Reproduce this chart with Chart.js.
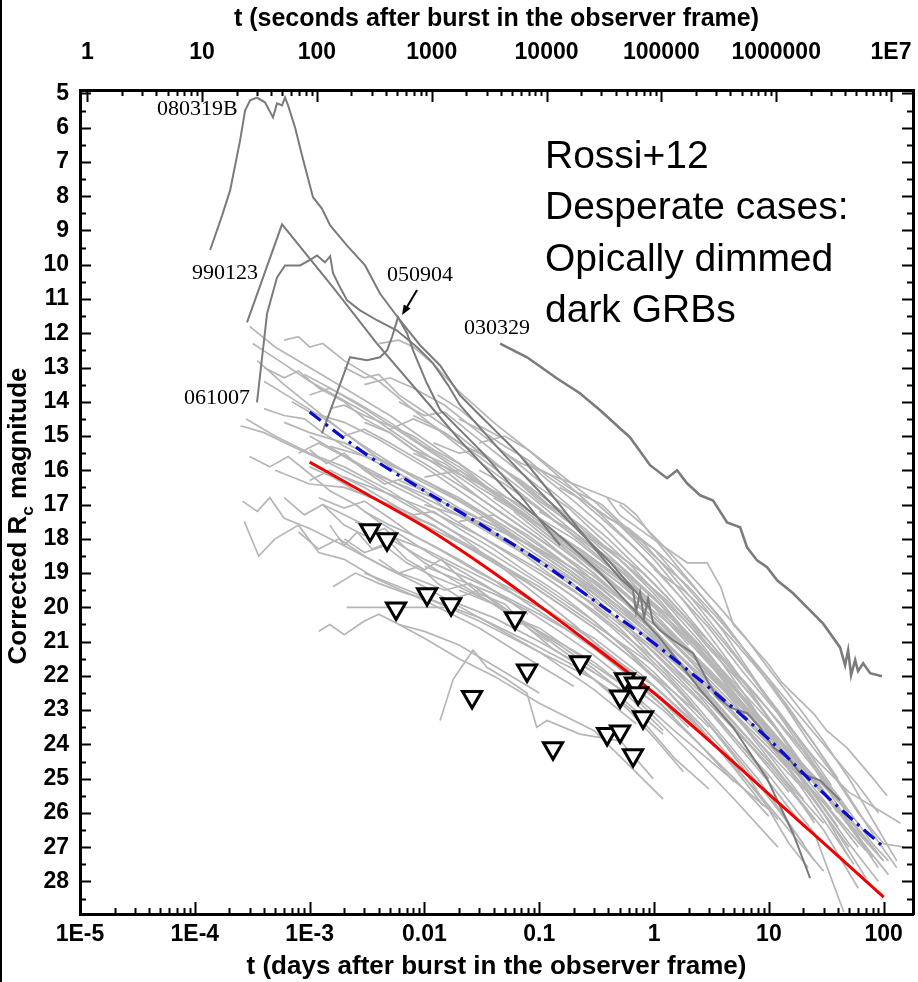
<!DOCTYPE html>
<html><head><meta charset="utf-8">
<script src="https://cdn.jsdelivr.net/npm/chart.js@4.4.1/dist/chart.umd.min.js"></script>
<style>html,body{margin:0;padding:0;background:#fff;}canvas{display:block;}</style>
</head><body>
<canvas id="c" width="918" height="982"></canvas>
<script>
// ---------------- axis ticks ----------------
const xTickValues = [1e-5, 1e-4, 1e-3, 0.01, 0.1, 1, 10, 100];
const xTickLabels = ['1E-5', '1E-4', '1E-3', '0.01', '0.1', '1', '10', '100'];
const secTickValues = [1, 10, 100, 1000, 10000, 100000, 1000000, 10000000];
const secTickLabels = ['1', '10', '100', '1000', '10000', '100000', '1000000', '1E7'];
const yTickValues = [5,6,7,8,9,10,11,12,13,14,15,16,17,18,19,20,21,22,23,24,25,26,27,28];

// ---------------- highlighted light curves [t (days), corrected Rc mag] ----------------
const grb080319B = [[1.36e-4,9.57],[1.73e-4,8.56],[2.03e-4,7.83],[2.48e-4,6.37],[2.74e-4,5.50],[3.03e-4,5.20],[3.48e-4,5.12],[4.08e-4,5.26],[4.80e-4,5.70],[5.20e-4,5.29],[5.75e-4,5.35],[6.11e-4,5.12],[6.49e-4,5.35],[7.46e-4,5.99],[8.59e-4,6.81],[1.07e-3,8.03],[1.28e-3,8.36],[1.51e-3,8.85],[2.12e-3,9.44],[3.04e-3,10.02],[4.10e-3,10.84],[6.12e-3,11.62],[9.16e-3,12.35],[0.0137,12.94],[0.0204,13.81],[0.0305,14.40],[0.0456,14.98],[0.0681,15.57],[0.102,16.29],[0.152,17.02],[0.226,17.75],[0.339,18.48],[0.506,19.15],[0.656,19.50],[0.697,20.14],[0.755,19.56],[0.818,20.32],[0.887,19.74],[0.980,20.44],[1.127,20.67],[1.466,20.96],[2.188,21.34],[2.897,22.13],[3.540,22.62],[4.592,22.92],[6.457,23.09],[8.375,23.50],[10.89,24.08],[15.31,24.46],[18.71,24.84],[27.9,25.05],[41.7,25.63]];
const grb990123 = [[2.85e-4,11.68],[5.75e-4,8.82],[1.60e-3,10.66],[3.86e-3,12.30],[8.63e-3,13.67],[0.0204,15.13],[0.0592,16.79],[0.161,18.0],[0.339,19.0],[1.127,20.9],[2.518,22.4],[4.875,23.5],[9.64,25.0],[16.26,26.6],[22.86,27.9]];
const grb061007 = [[3.48e-4,14.02],[4.26e-4,11.42],[5.20e-4,10.37],[6.11e-4,10.02],[8.24e-4,10.02],[1.01e-3,9.86],[1.16e-3,9.73],[1.36e-3,9.93],[1.51e-3,9.75],[1.60e-3,10.25],[1.84e-3,10.66],[2.12e-3,11.04],[2.75e-3,11.33],[3.86e-3,11.62],[5.77e-3,11.92],[8.63e-3,12.41],[0.0119,12.88],[0.0161,13.52],[0.0204,14.10],[0.0456,15.42],[0.102,16.64],[0.226,17.81],[0.414,18.68],[0.923,20.03]];
const grb050904 = [[1.28e-3,14.92],[2.25e-3,12.70],[3.16e-3,12.79],[4.10e-3,12.70],[4.72e-3,12.50],[5.22e-3,12.11],[5.89e-3,11.53],[7.05e-3,12.00],[7.96e-3,12.50],[9.16e-3,12.99],[0.0105,13.46],[0.0137,14.24],[0.0305,15.41],[0.0681,16.73],[0.152,18.19]];
const grb030329 = [[0.0456,12.30],[0.0783,12.70],[0.143,13.32],[0.226,13.75],[0.339,14.25],[0.618,15.04],[0.923,15.85],[1.297,16.23],[1.585,16.00],[1.936,16.38],[2.518,16.73],[3.266,16.88],[4.325,17.52],[5.61,17.66],[6.457,18.25],[7.89,18.63],[9.64,18.83],[11.80,19.21],[16.26,19.59],[21.5,20.00],[29.6,20.47],[41.7,21.17],[46.1,21.69],[49.0,21.25],[52.0,21.98],[56.4,21.54],[59.8,21.86],[66.2,21.63],[76.2,21.92],[96.8,22.01]];

// ---------------- sample light curves (grey) ----------------
const A1 = [[3.0e-4,11.8],[5e-4,12.4],[1e-3,13.0],[2e-3,13.6],[5e-3,14.4],[0.01,15.1],[0.03,16.2],[0.1,17.5],[0.3,18.8],[1,20.3],[3,21.9],[8,23.4]];
const A2 = [[3.2e-4,12.3],[6e-4,12.9],[1e-3,13.4],[3e-3,14.3],[0.01,15.5],[0.03,16.6],[0.1,17.9],[0.4,19.6],[1.5,21.4],[4,23.0]];
const A3 = [[2.5e-4,14.7],[4e-4,14.9],[7e-4,15.3],[1.5e-3,15.8],[3e-3,16.3],[0.01,17.3],[0.03,18.2],[0.1,19.3],[0.3,20.4],[1,21.9],[3,23.5]];
const A4 = [[2.8e-4,14.5],[5e-4,15.0],[1e-3,15.5],[2e-3,15.9],[5e-3,16.6],[0.02,17.9],[0.05,18.9],[0.2,20.5],[0.6,21.9],[1.5,23.2]];
const A5 = [[2.6e-4,16.9],[3.5e-4,17.2],[4.5e-4,16.8],[6e-4,17.4],[1e-3,17.7],[2e-3,18.2],[5e-3,18.9],[0.01,19.4],[0.03,20.3],[0.1,21.3],[0.3,22.4],[0.7,23.4]];
const A6 = [[2.7e-4,17.5],[3.6e-4,18.5],[5e-4,18.0],[8e-4,17.6],[1.2e-3,18.4],[2e-3,18.6],[4e-3,19.2],[0.01,19.8],[0.03,20.6],[0.08,21.5],[0.2,22.3]];
const A7 = [[3.5e-4,12.8],[6e-4,13.5],[1e-3,14.1],[2e-3,14.9],[5e-3,15.9],[0.01,16.6],[0.03,17.6],[0.1,18.7],[0.3,19.8],[1,21.2],[3,22.7],[10,24.6],[25,26.2]];
const A8 = [[4e-4,13.4],[7e-4,13.9],[1.5e-3,14.6],[3e-3,15.3],[8e-3,16.2],[0.02,16.9],[0.06,17.9],[0.2,19.1],[0.6,20.4],[2,22.0],[6,23.8],[15,25.4]];
const B1 = [[6e-4,12.2],[8e-4,12.1],[1e-3,12.4],[1.3e-3,12.3],[2e-3,12.8],[4e-3,13.4],[0.01,14.5],[0.02,15.3],[0.05,16.3],[0.1,17.1],[0.3,18.4],[1,20.0],[2,21.1]];
const B2 = [[7e-4,14.0],[1e-3,14.3],[2e-3,14.6],[4e-3,15.1],[0.01,15.9],[0.03,17.0],[0.1,18.2],[0.3,19.3],[1,20.7],[3,22.2],[10,24.0],[30,25.7],[70,27.1]];
const B3 = [[8e-4,15.5],[1.2e-3,15.2],[2e-3,15.6],[5e-3,16.4],[0.01,16.9],[0.03,17.9],[0.1,19.0],[0.3,20.1],[1,21.5],[3,23.0],[10,24.9],[25,26.6],[45,28.9]];
const B4 = [[1e-3,16.3],[1.5e-3,16.0],[3e-3,16.5],[6e-3,17.1],[0.015,17.8],[0.04,18.6],[0.1,19.5],[0.3,20.6],[1,22.0],[2.5,23.1]];
const B5 = [[1.2e-3,20.7],[1.5e-3,20.5],[2e-3,20.8],[3e-3,20.4],[4e-3,20.2],[6e-3,20.5],[0.01,20.7],[0.02,21.1],[0.04,21.7],[0.1,22.5]];
const B6 = [[2.1e-3,20.0],[4e-3,20.0],[8e-3,20.0],[0.015,20.0],[0.02,19.9],[0.04,20.3],[0.1,21.0],[0.3,21.9],[0.8,22.8]];
const B7 = [[1.6e-3,19.4],[2.5e-3,19.0],[4e-3,19.3],[7e-3,19.6],[0.012,19.8],[0.03,20.3],[0.08,21.0],[0.2,21.7],[0.5,22.6],[1.2,23.7]];
const B8 = [[9e-4,13.2],[1.5e-3,13.6],[3e-3,14.2],[7e-3,15.0],[0.02,16.0],[0.05,16.9],[0.15,18.0],[0.5,19.3],[1.5,20.6],[4,22.0],[10,23.5],[30,25.4],[80,27.3]];
const B9 = [[1.3e-3,17.0],[2e-3,17.3],[4e-3,17.8],[0.01,18.3],[0.03,19.1],[0.1,20.0],[0.3,20.9],[0.8,22.0],[2,23.2],[5,24.6],[12,26.2]];
const B10 = [[2e-3,15.0],[3e-3,14.8],[5e-3,15.2],[0.01,15.8],[0.03,16.8],[0.1,18.0],[0.3,19.1],[1,20.5],[3,22.0],[8,23.4],[20,24.8],[50,26.2],[100,27.4]];
const D1 = [[4e-3,12.3],[6e-3,12.2],[8e-3,12.4],[0.012,12.9],[0.02,13.7],[0.04,14.6],[0.08,15.4],[0.15,16.1],[0.3,16.9],[0.6,17.8],[1,18.5],[2,19.4],[4,20.5],[8,21.7],[15,22.8],[30,24.0],[60,25.2],[90,26.0]];
const D2 = [[3e-3,13.5],[5e-3,13.3],[8e-3,13.6],[0.015,14.1],[0.03,14.9],[0.06,15.7],[0.15,16.8],[0.4,18.0],[1,19.3],[3,21.0],[8,22.6],[20,24.3],[50,26.0]];
const D3 = [[5e-3,14.8],[8e-3,14.5],[0.015,14.9],[0.03,15.6],[0.08,16.7],[0.2,17.8],[0.5,18.9],[1.2,20.2],[3,21.5],[7,22.9],[15,24.2],[40,25.9],[90,27.6]];
const D4 = [[0.01,16.2],[0.02,16.0],[0.04,16.6],[0.1,17.6],[0.3,18.9],[1,20.3],[3,21.8],[10,23.6],[25,25.1],[60,26.7],[110,27.8]];
const D5 = [[0.02,17.5],[0.04,17.3],[0.08,17.9],[0.2,18.9],[0.5,20.0],[1.5,21.5],[4,23.0],[10,24.5],[30,26.5],[60,28.2]];
const D6 = [[0.03,15.2],[0.05,15.0],[0.08,15.4],[0.15,16.2],[0.3,17.1],[0.7,18.3],[1.5,19.5],[3,20.6],[6,21.9],[12,23.1],[25,24.4],[50,25.4],[100,26.0],[140,26.3]];
const D7 = [[0.05,16.0],[0.1,16.9],[0.2,17.6],[0.5,18.6],[1,19.5],[2,20.5],[5,21.9],[10,23.0],[20,24.2],[40,25.5],[80,26.9],[110,27.4]];
const D8 = [[0.06,17.2],[0.1,17.8],[0.3,19.0],[0.8,20.3],[2,21.7],[5,23.1],[10,24.1],[20,25.2],[40,26.6],[70,27.9]];
const D9 = [[0.045,15.4],[0.07,15.8],[0.1,16.0],[0.2,16.4],[0.4,16.8],[0.55,17.0],[0.7,17.3],[0.9,17.8],[1.2,18.3],[2,19.2],[3.5,20.2],[6,21.2],[10,22.1],[15,23.0],[25,24.0],[40,25.0]];
const D10 = [[0.15,16.5],[0.25,16.9],[0.5,17.6],[1,18.6],[2,19.8],[4,21.0],[7,22.0],[12,23.0],[20,24.0],[35,25.2]];
const D11 = [[0.39,16.8],[0.5,17.3],[0.98,18.0],[1.95,18.7],[2.9,18.7],[3.8,19.4],[4.9,20.5],[9.6,21.6],[13,22.2],[24.5,23.1],[32,23.6],[48,24.1],[81,25.0],[107,25.5]];
const L1 = [[0.0137,23.3],[0.0178,22.1],[0.0265,21.25],[0.035,21.75],[0.052,22.1],[0.078,22.5],[0.095,23.5],[0.117,23.3],[0.226,23.7],[0.51,23.9],[0.98,25.0]];
const L2 = [[6e-3,20.5],[0.01,20.9],[0.02,21.5],[0.04,22.0],[0.1,22.8],[0.3,23.6],[0.6,24.6],[1.2,25.6]];
const L3 = [[3e-3,19.0],[6e-3,19.4],[0.01,19.7],[0.03,20.4],[0.1,21.3],[0.3,22.1],[0.7,23.1],[1.5,24.4],[3,25.3]];
const L4 = [[0.02,19.5],[0.04,19.9],[0.1,20.7],[0.3,21.6],[0.6,22.4],[1.5,23.6],[4,24.8],[10,25.9]];
const L5 = [[0.05,20.2],[0.1,20.6],[0.2,21.3],[0.5,22.2],[1,23.2],[2,24.2],[5,25.6],[12,27.0]];
const L6 = [[2.5e-3,17.5],[5e-3,18.0],[0.01,18.6],[0.03,19.3],[0.1,20.2],[0.3,21.1],[1,22.3],[3,23.8],[8,25.4],[20,27.0],[30,27.7]];
const M1 = [[1e-3,15.0],[3e-3,15.9],[0.01,16.8],[0.03,17.6],[0.1,18.6],[0.3,19.6],[1,21.0],[3,22.6],[10,24.5],[30,26.3]];
const M2 = [[1.5e-3,15.3],[4e-3,15.7],[0.01,16.3],[0.03,17.2],[0.1,18.4],[0.3,19.5],[1,20.9],[3,22.4],[8,23.9],[20,25.3]];
const M3 = [[2e-3,16.2],[5e-3,16.7],[0.01,17.1],[0.03,17.9],[0.1,18.9],[0.3,19.9],[1,21.3],[3,22.8],[10,24.6]];
const M4 = [[5e-4,16.0],[1e-3,16.4],[2e-3,16.5],[5e-3,17.0],[0.01,17.6],[0.03,18.4],[0.1,19.4],[0.3,20.5],[1,21.7]];
const M5 = [[8e-3,15.5],[0.015,15.9],[0.03,16.4],[0.07,17.2],[0.15,18.0],[0.4,19.2],[1,20.4],[3,21.9],[8,23.3],[20,24.6],[50,26.0]];
const M6 = [[0.01,17.0],[0.03,17.5],[0.1,18.3],[0.3,19.2],[1,20.5],[3,22.1],[10,23.9],[30,25.7],[60,27.0]];
const M7 = [[3e-3,16.0],[0.01,16.7],[0.04,17.6],[0.15,18.7],[0.5,20.0],[1.5,21.3],[4,22.7],[10,24.3],[20,25.6]];
const M8 = [[6e-4,14.6],[1e-3,14.9],[2e-3,15.2],[5e-3,15.8],[0.02,16.8],[0.06,17.8],[0.2,19.0],[0.6,20.2],[1.5,21.3]];
const M9 = [[0.1,17.2],[0.2,17.8],[0.5,18.8],[1,19.7],[2,20.9],[5,22.4],[10,23.5],[25,25.0],[50,26.3],[100,27.4]];
const M10 = [[0.2,18.2],[0.5,19.2],[1,20.2],[2,21.3],[4,22.4],[8,23.6],[15,24.7],[30,26.0],[50,27.3]];
const E1 = [[1e-3,13.8],[1.5e-3,13.6],[2.5e-3,14.0],[5e-3,14.6],[0.01,15.3],[0.02,15.9],[0.035,16.5],[0.06,16.9],[0.1,17.4],[0.2,18.0],[0.4,18.8],[0.8,19.6],[1.5,20.4],[3,21.4],[6,22.5],[12,23.6]];
const E2 = [[2e-3,13.0],[3e-3,13.3],[4e-3,13.2],[6e-3,13.8],[0.01,14.3],[0.02,15.0],[0.04,15.8],[0.07,16.3],[0.12,16.9],[0.25,17.7],[0.5,18.6],[1,19.6],[2,20.8],[4,22.1],[8,23.4],[15,24.5]];
const E3 = [[6e-3,14.0],[0.01,14.4],[0.015,14.3],[0.025,14.9],[0.05,15.7],[0.1,16.5],[0.18,17.1],[0.3,17.8],[0.6,18.7],[1.2,19.8],[2.5,21.0],[5,22.3],[10,23.5],[20,24.9],[35,25.9]];
const E4 = [[0.012,15.2],[0.02,15.5],[0.03,15.4],[0.05,16.0],[0.09,16.7],[0.15,17.3],[0.3,18.1],[0.6,19.0],[1.2,20.0],[2.5,21.2],[5,22.5],[9,23.5],[18,24.8]];
const E5 = [[3e-3,14.6],[5e-3,14.9],[8e-3,15.4],[0.015,15.8],[0.03,16.5],[0.06,17.1],[0.12,17.8],[0.25,18.5],[0.5,19.3],[1,20.2],[2,21.2],[4,22.3],[7,23.1]];
const E6 = [[0.02,14.5],[0.03,14.8],[0.05,15.3],[0.08,15.7],[0.12,16.2],[0.2,16.7],[0.35,17.4],[0.6,18.1],[1,18.8],[1.8,19.8],[3,20.8],[5,21.8],[9,23.0],[16,24.2],[28,25.4]];
const E7 = [[0.08,15.8],[0.12,16.1],[0.2,16.6],[0.35,17.0],[0.5,17.5],[0.8,18.1],[1.3,18.9],[2.2,19.8],[4,20.9],[7,22.0],[12,23.1],[22,24.4],[40,25.8],[70,27.0]];
const E8 = [[0.25,16.9],[0.4,17.4],[0.6,17.7],[1,18.3],[1.6,19.1],[2.6,19.9],[4,20.7],[6,21.6],[10,22.7],[16,23.6],[30,25.0],[55,26.3],[90,27.2]];
const E9 = [[0.6,17.8],[1,18.3],[1.5,18.8],[2.5,19.6],[4,20.4],[6,21.2],[9,22.0],[14,22.9],[22,23.9],[35,24.8],[60,26.0],[100,26.9],[150,27.0]];
const E10 = [[0.013,13.8],[0.02,14.2],[0.03,14.7],[0.05,15.1],[0.08,15.8],[0.12,16.3],[0.2,16.9],[0.35,17.6],[0.6,18.4],[1,19.1],[1.8,20.1],[3.2,21.1],[6,22.3],[11,23.4],[20,24.6],[40,26.0]];
const E11 = [[1.5e-3,14.2],[2e-3,14.1],[3e-3,14.4],[5e-3,14.7],[8e-3,15.0],[0.012,15.4],[0.02,15.8],[0.03,16.3],[0.05,16.9],[0.1,17.7],[0.2,18.5],[0.4,19.4],[0.8,20.4],[1.6,21.5],[3,22.5]];
const E12 = [[4e-4,14.2],[6e-4,14.4],[9e-4,14.5],[1.3e-3,14.9],[2e-3,15.3],[3.5e-3,15.7],[6e-3,16.1],[0.01,16.5],[0.02,17.1],[0.04,17.6],[0.08,18.3],[0.15,18.9],[0.3,19.6],[0.6,20.4],[1.2,21.4],[2.5,22.6],[5,23.8],[10,25.0]];
const E13 = [[0.3,18.0],[0.5,18.5],[0.8,19.0],[1.3,19.7],[2,20.4],[3.5,21.4],[6,22.5],[10,23.6],[18,24.9],[30,26.0],[50,27.0]];
const E14 = [[0.04,16.8],[0.07,17.3],[0.12,17.9],[0.2,18.4],[0.35,19.0],[0.6,19.7],[1,20.4],[2,21.5],[4,22.7],[8,24.0],[15,25.2],[25,26.3]];
const E15 = [[0.1,19.0],[0.2,19.7],[0.4,20.5],[0.8,21.4],[1.5,22.3],[3,23.4],[6,24.6],[12,25.9],[20,26.9]];
const E16 = [[5e-3,17.0],[8e-3,17.3],[0.012,17.2],[0.02,17.7],[0.04,18.3],[0.08,19.0],[0.15,19.6],[0.3,20.4],[0.6,21.3],[1.2,22.3],[2.5,23.5],[5,24.7],[9,25.8]];
const F1 = [[1.2e-3,16.8],[2e-3,17.1],[3e-3,16.9],[5e-3,17.4],[8e-3,17.9],[0.015,18.4],[0.03,19.0],[0.06,19.5],[0.12,20.1],[0.25,20.8],[0.5,21.6],[1,22.5],[2,23.5]];
const F2 = [[2e-3,18.0],[3e-3,18.4],[4.5e-3,18.2],[7e-3,18.7],[0.012,19.1],[0.02,19.4],[0.035,19.8],[0.07,20.4],[0.15,21.1],[0.3,21.8],[0.6,22.6],[1.2,23.6]];
const F3 = [[8e-4,17.8],[1.2e-3,18.3],[1.8e-3,18.0],[3e-3,18.5],[5e-3,18.9],[9e-3,19.2],[0.015,19.5],[0.025,19.3],[0.04,19.8],[0.08,20.5],[0.15,21.2],[0.3,21.9]];
const F4 = [[3e-3,17.2],[5e-3,17.6],[8e-3,17.9],[0.012,18.2],[0.02,18.6],[0.04,19.2],[0.08,19.9],[0.15,20.5],[0.3,21.2],[0.6,22.0],[1.2,22.9],[2.5,24.0],[5,25.1]];
const F5 = [[1e-3,15.9],[1.6e-3,16.2],[2.5e-3,16.6],[4e-3,16.9],[7e-3,17.3],[0.012,17.6],[0.02,18.1],[0.04,18.7],[0.08,19.3],[0.15,19.9],[0.3,20.6],[0.6,21.4],[1.2,22.3],[2.5,23.4],[5,24.5]];
const F6 = [[6e-3,16.3],[0.01,16.6],[0.02,17.2],[0.04,17.8],[0.08,18.4],[0.15,19.0],[0.3,19.8],[0.6,20.6],[1.2,21.6],[2.5,22.7],[5,23.9],[10,25.1],[20,26.4]];
const F7 = [[0.03,16.0],[0.05,16.4],[0.08,16.9],[0.15,17.6],[0.3,18.3],[0.6,19.1],[1.2,20.0],[2.5,21.1],[5,22.3],[10,23.6],[20,25.0],[40,26.4]];
const F8 = [[0.1,17.6],[0.2,18.2],[0.4,18.9],[0.8,19.6],[1.5,20.4],[3,21.5],[6,22.7],[12,24.0],[25,25.5],[50,26.9],[90,28.0]];
const F9 = [[0.5,17.0],[0.8,17.6],[1.2,18.2],[2,19.0],[3.5,19.9],[6,20.8],[10,21.8],[18,22.9],[30,23.9],[50,25.0],[80,26.2],[130,27.4]];
const F10 = [[1,18.9],[1.8,19.5],[3,20.2],[5,21.0],[8,21.8],[14,22.8],[25,24.0],[45,25.3],[80,26.6],[130,27.6]];
const F11 = [[4e-4,13.0],[6e-4,13.3],[8e-4,13.1],[1.2e-3,13.6],[2e-3,14.0],[3e-3,14.5],[5e-3,14.9],[8e-3,15.4],[0.015,16.0],[0.03,16.8],[0.06,17.5],[0.12,18.2],[0.25,19.0],[0.5,19.9]];
const F12 = [[3e-4,15.6],[4.5e-4,15.9],[6.5e-4,15.6],[1e-3,16.1],[1.5e-3,16.6],[2.5e-3,17.0],[4e-3,17.5],[7e-3,18.0],[0.012,18.5],[0.02,18.9],[0.04,19.5],[0.08,20.2]];
const F13 = [[0.01,18.8],[0.02,19.2],[0.04,19.6],[0.08,20.1],[0.15,20.7],[0.3,21.4],[0.6,22.2],[1.2,23.0],[2.5,24.0],[5,25.0],[10,26.1]];
const F14 = [[0.2,19.2],[0.35,19.9],[0.6,20.7],[1,21.5],[2,22.6],[4,23.8],[8,25.0],[15,26.3],[25,27.4]];
const F15 = [[0.008,14.4],[0.012,14.7],[0.02,15.2],[0.03,15.5],[0.05,16.0],[0.08,16.5],[0.12,17.0],[0.2,17.5],[0.3,18.0],[0.5,18.6],[0.8,19.2],[1.3,19.8],[2,20.5],[3,21.2],[5,22.0],[8,22.8],[13,23.8],[20,24.7]];
const F16 = [[0.15,17.9],[0.25,18.4],[0.4,18.9],[0.7,19.5],[1.2,20.2],[2,21.0],[3.5,21.9],[6,22.9],[10,23.9],[17,25.0],[30,26.2],[55,27.5]];
const G1 = [[1.5e-3,17.6],[2e-3,18.2],[2.6e-3,17.8],[3.5e-3,18.3],[5e-3,18.1],[7e-3,18.6],[0.01,18.9],[0.014,18.6],[0.02,19.1],[0.03,19.6],[0.05,19.9],[0.08,20.6],[0.12,21.0]];
const G2 = [[6e-4,16.8],[9e-4,17.3],[1.3e-3,17.0],[2e-3,17.6],[3e-3,17.9],[4.5e-3,17.7],[7e-3,18.3],[0.01,18.7],[0.02,19.3],[0.04,19.9],[0.07,20.5]];
const G3 = [[4e-3,18.6],[6e-3,19.0],[9e-3,18.8],[0.013,19.3],[0.02,19.7],[0.03,19.5],[0.05,20.1],[0.08,20.6],[0.13,21.2],[0.2,21.6],[0.35,22.3],[0.6,23.0],[1,23.8],[1.8,24.8]];
const G4 = [[1e-3,15.4],[1.4e-3,15.8],[2e-3,15.5],[3e-3,16.0],[4.5e-3,16.4],[7e-3,16.2],[0.01,16.6],[0.015,17.1],[0.025,17.5],[0.04,17.9],[0.07,18.4],[0.12,19.0],[0.2,19.5],[0.4,20.3]];
const G5 = [[0.3,20.0],[0.5,20.6],[0.8,21.3],[1.3,22.0],[2,22.7],[3.5,23.7],[6,24.7],[10,25.9],[15,26.9],[22,27.6]];
const greyCurves = [A1,A2,A3,A4,A5,A6,A7,A8,B1,B2,B3,B4,B5,B6,B7,B8,B9,B10,D1,D2,D3,D4,D5,D6,D7,D8,D9,D10,D11,L1,L2,L3,L4,L5,L6,M1,M2,M3,M4,M5,M6,M7,M8,M9,M10,E1,E2,E3,E4,E5,E6,E7,E8,E9,E10,E11,E12,E13,E14,E15,E16,F1,F2,F3,F4,F5,F6,F7,F8,F9,F10,F11,F12,F13,F14,F15,F16,G1,G2,G3,G4,G5];

// ---------------- model lines ----------------
const redLine = [[1e-3,15.76],[3.16e-3,16.7],[0.01,17.65],[0.0316,18.75],[0.1,19.95],[0.316,21.2],[1,22.5],[3.16,23.95],[10,25.45],[31.6,26.95],[100,28.46]];
const blueLine = [[1e-3,14.3],[3.16e-3,15.55],[0.01,16.6],[0.0316,17.6],[0.1,18.65],[0.316,19.85],[1,21.05],[3.16,22.4],[10,23.85],[31.6,25.5],[100,27.0]];

// ---------------- upper limits (dark GRBs) ----------------
const limitT   = [0.00336,0.00472,0.00566,0.01054,0.01706,0.0260,0.0615,0.0783,0.1318,0.2265,0.558,0.682,0.506,0.726,0.802,0.390,0.506,0.656];
const limitMag = [17.75,18.01,20.03,19.62,19.91,22.62,20.32,21.84,24.11,21.60,22.10,22.22,22.60,22.51,23.21,23.70,23.62,24.32];

// ---------------- annotations ----------------
const grbNames = ['080319B','990123','061007','050904','030329'];
const grbNameT = [1.05e-4, 1.83e-4, 1.56e-4, 9.16e-3, 0.0429];
const grbNameMag = [5.46, 10.24, 13.89, 10.30, 11.85];
const noteLines = ['Rossi+12', 'Desperate cases:', 'Opically dimmed', 'dark GRBs'];

// ---------------- build ----------------
const pts = a => a.map(p => ({x: p[0], y: p[1]}));
const SANS = "'Liberation Sans', Arial, Helvetica, sans-serif";
Chart.defaults.font.family = SANS;
Chart.defaults.color = '#000';

const datasets = [];
datasets.push({label:'dark GRB limits', data: limitT.map((t,i)=>({x:t, y:limitMag[i]})), showLine:false,
  pointStyle:'triangle', rotation:180, pointRadius:11, pointBorderWidth:3, pointBackgroundColor:'#fff', pointBorderColor:'#000'});
datasets.push({label:'blue', data: pts(blueLine), showLine:true, borderColor:'#0a0ad0', borderWidth:3.2, borderDash:[14,6,3,6], pointRadius:0, cubicInterpolationMode:'monotone'});
datasets.push({label:'red', data: pts(redLine), showLine:true, borderColor:'#f00000', borderWidth:3, pointRadius:0, cubicInterpolationMode:'monotone'});
[[grb080319B,2],[grb990123,2],[grb061007,2],[grb050904,2],[grb030329,2.6]].forEach(([c,w],i)=>{
  datasets.push({label:'hl'+i, data: pts(c), showLine:true, borderColor:'#7b7b7b', borderWidth:w, pointRadius:0, tension:0});
});
greyCurves.forEach((c,i)=>{
  datasets.push({label:'g'+i, data: pts(c), showLine:true, borderColor:'#b6b6b6', borderWidth:1.7, pointRadius:0, tension:0});
});

const tickFont = {family: SANS, size: 23, weight: 'bold'};

const decor = {
  id: 'decor',
  afterDraw(chart) {
    const {ctx, chartArea: a, scales: {x, x2, y}} = chart;
    ctx.save();
    ctx.strokeStyle = '#000'; ctx.lineWidth = 2;
    ctx.beginPath();
    for (let e = -5; e <= 2; e++) {
      for (let k = 1; k <= 9; k++) {
        const v = k * Math.pow(10, e);
        if (v > x.max) break;
        const px = Math.round(x.getPixelForValue(v)) + 0.5;
        const len = k === 1 ? 12 : 6;
        ctx.moveTo(px, a.bottom); ctx.lineTo(px, a.bottom - len);
      }
    }
    for (let e = 0; e <= 7; e++) {
      for (let k = 1; k <= 9; k++) {
        const v = k * Math.pow(10, e);
        if (v > x2.max) break;
        const px = Math.round(x2.getPixelForValue(v)) + 0.5;
        const len = k === 1 ? 12 : 6;
        ctx.moveTo(px, a.top); ctx.lineTo(px, a.top + len);
      }
    }
    for (let m = 5; m <= 28.5; m += 0.5) {
      const py = Math.round(y.getPixelForValue(m)) + 0.5;
      const len = Number.isInteger(m) ? 11 : 6;
      ctx.moveTo(a.left, py); ctx.lineTo(a.left + len, py);
      ctx.moveTo(a.right, py); ctx.lineTo(a.right - len, py);
    }
    ctx.stroke();

    ctx.fillStyle = '#000';
    ctx.font = "22px 'Liberation Serif', 'Times New Roman', serif";
    ctx.textAlign = 'center'; ctx.textBaseline = 'middle';
    grbNames.forEach((s, i) => ctx.fillText(s, x.getPixelForValue(grbNameT[i]), y.getPixelForValue(grbNameMag[i])));

    const ax0 = x.getPixelForValue(8.63e-3), ay0 = y.getPixelForValue(10.74);
    const ax1 = x.getPixelForValue(6.38e-3), ay1 = y.getPixelForValue(11.47);
    const ang = Math.atan2(ay1 - ay0, ax1 - ax0);
    ctx.lineWidth = 2;
    ctx.beginPath(); ctx.moveTo(ax0, ay0); ctx.lineTo(ax1 - 6*Math.cos(ang), ay1 - 6*Math.sin(ang)); ctx.stroke();
    ctx.beginPath();
    ctx.moveTo(ax1, ay1);
    ctx.lineTo(ax1 - 10*Math.cos(ang) + 4*Math.sin(ang), ay1 - 10*Math.sin(ang) - 4*Math.cos(ang));
    ctx.lineTo(ax1 - 10*Math.cos(ang) - 4*Math.sin(ang), ay1 - 10*Math.sin(ang) + 4*Math.cos(ang));
    ctx.closePath(); ctx.fill();

    ctx.font = "39px " + SANS;
    ctx.textAlign = 'left'; ctx.textBaseline = 'alphabetic';
    noteLines.forEach((s, i) => ctx.fillText(s, 545, 168 + i * 51.3));

    ctx.save();
    ctx.translate(26, 516);
    ctx.rotate(-Math.PI / 2);
    const big = "bold 26px " + SANS, small = "bold 17px " + SANS;
    ctx.font = big; const w1 = ctx.measureText('Corrected R').width; const w3 = ctx.measureText(' magnitude').width;
    ctx.font = small; const w2 = ctx.measureText('c').width;
    let sx = -(w1 + w2 + w3) / 2;
    ctx.font = big; ctx.fillText('Corrected R', sx, 0); sx += w1;
    ctx.font = small; ctx.fillText('c', sx, 7); sx += w2;
    ctx.font = big; ctx.fillText(' magnitude', sx, 0);
    ctx.restore();

    ctx.fillRect(0, 0, 2, 982);
    ctx.restore();
  }
};

const noPad = s => { s.paddingLeft = 0; s.paddingRight = 0; s.paddingTop = 0; s.paddingBottom = 0; };

new Chart(document.getElementById('c'), {
  type: 'scatter',
  data: {datasets},
  options: {
    responsive: false, animation: false, devicePixelRatio: 1,
    layout: {autoPadding: false, padding: {left: 0, right: 5, top: 0, bottom: 0}},
    plugins: {legend: {display: false}, tooltip: {enabled: false}},
    scales: {
      x: {
        type: 'logarithmic', position: 'bottom', min: 1e-5, max: 180,
        grid: {display: false, drawTicks: false},
        border: {display: true, color: '#000', width: 3},
        ticks: {autoSkip: false, maxRotation: 0, font: tickFont, color: '#000', padding: 7,
          callback: (v, i) => xTickLabels[i]},
        afterBuildTicks: s => { s.ticks = xTickValues.map(v => ({value: v})); },
        afterFit: s => { s.height = 68; noPad(s); },
        title: {display: true, text: 't (days after burst in the observer frame)', color: '#000',
          font: {family: SANS, size: 26, weight: 'bold'}, padding: {top: 0, bottom: 0}}
      },
      x2: {
        type: 'logarithmic', position: 'top', axis: 'x', min: 1e-5 * 86400, max: 180 * 86400,
        grid: {display: false, drawTicks: false},
        border: {display: true, color: '#000', width: 3},
        ticks: {autoSkip: false, maxRotation: 0, font: tickFont, color: '#000', padding: 24,
          callback: (v, i) => secTickLabels[i]},
        afterBuildTicks: s => { s.ticks = secTickValues.map(v => ({value: v})); },
        afterFit: s => { s.height = 90; noPad(s); },
        title: {display: true, text: 't (seconds after burst in the observer frame)', color: '#000',
          font: {family: SANS, size: 25, weight: 'bold'}, padding: {top: 4, bottom: 0}}
      },
      y: {
        type: 'linear', position: 'left', reverse: true, min: 4.9, max: 28.95,
        grid: {display: false, drawTicks: false},
        border: {display: true, color: '#000', width: 3},
        ticks: {autoSkip: false, font: tickFont, color: '#000', padding: 11},
        afterBuildTicks: s => { s.ticks = yTickValues.map(v => ({value: v})); },
        afterFit: s => { s.width = 80; noPad(s); }
      },
      y2: {
        type: 'linear', position: 'right', axis: 'y', reverse: true, min: 4.9, max: 28.95,
        grid: {display: false, drawTicks: false},
        border: {display: true, color: '#000', width: 3},
        ticks: {display: false},
        afterFit: s => { s.width = 0; noPad(s); }
      }
    }
  },
  plugins: [decor]
});
</script>
</body></html>
